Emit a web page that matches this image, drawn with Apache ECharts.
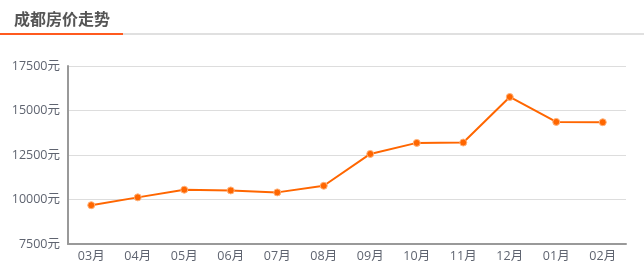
<!DOCTYPE html>
<html><head><meta charset="utf-8">
<script src="https://cdn.jsdelivr.net/npm/echarts@6/dist/echarts.min.js"></script>
<style>html,body{margin:0;padding:0;background:#fff}#c{width:644px;height:276px}</style>
</head><body><div id="c"></div>
<script>
const titleText = '成都房价走势';
const categories = ['03月','04月','05月','06月','07月','08月','09月','10月','11月','12月','01月','02月'];
const prices = [9680, 10120, 10550, 10510, 10400, 10770, 12560, 13180, 13200, 15760, 14360, 14340];
const yMin = 7500, yMax = 17500, yStep = 2500;

const chart = echarts.init(document.getElementById('c'));
const font = '"Open Sans", "Noto Sans CJK SC", sans-serif';
chart.setOption({
  animation: false,
  textStyle: { fontFamily: font },
  title: { text: titleText, left: 9, top: 6, textStyle: { fontSize: 16, fontWeight: 'bold', color: '#555', fontFamily: '"Noto Sans CJK SC", sans-serif' } },
  graphic: [
    { type: 'rect', shape: { x: 0, y: 33, width: 644, height: 2 }, style: { fill: '#e0e0e0' } },
    { type: 'rect', shape: { x: 0, y: 33, width: 123, height: 2 }, style: { fill: '#ff5a1f' } }
  ],
  grid: { left: 68, right: 18, top: 66, bottom: 32 },
  xAxis: {
    type: 'category', data: categories, boundaryGap: true,
    axisLine: { lineStyle: { color: '#999', width: 2 } },
    axisTick: { alignWithLabel: true, length: 5, lineStyle: { color: '#c8d4e8' } },
    axisLabel: { color: '#5f6470', fontSize: 12.5, margin: 6, fontFamily: font }
  },
  yAxis: {
    type: 'value', min: yMin, max: yMax, interval: yStep,
    axisLine: { show: true, lineStyle: { color: '#999', width: 2 } },
    axisTick: { show: false },
    axisLabel: { formatter: v => v + '元', color: '#5f6470', fontSize: 12.5, margin: 8, fontFamily: font },
    splitLine: { lineStyle: { color: '#ddd' } }
  },
  series: [{
    type: 'line', data: prices, symbol: 'circle', symbolSize: 7,
    lineStyle: { color: '#ff6600', width: 2 },
    itemStyle: { color: '#ff6600', borderColor: '#ffb27a', borderWidth: 1 }
  }]
});
</script></body></html>
